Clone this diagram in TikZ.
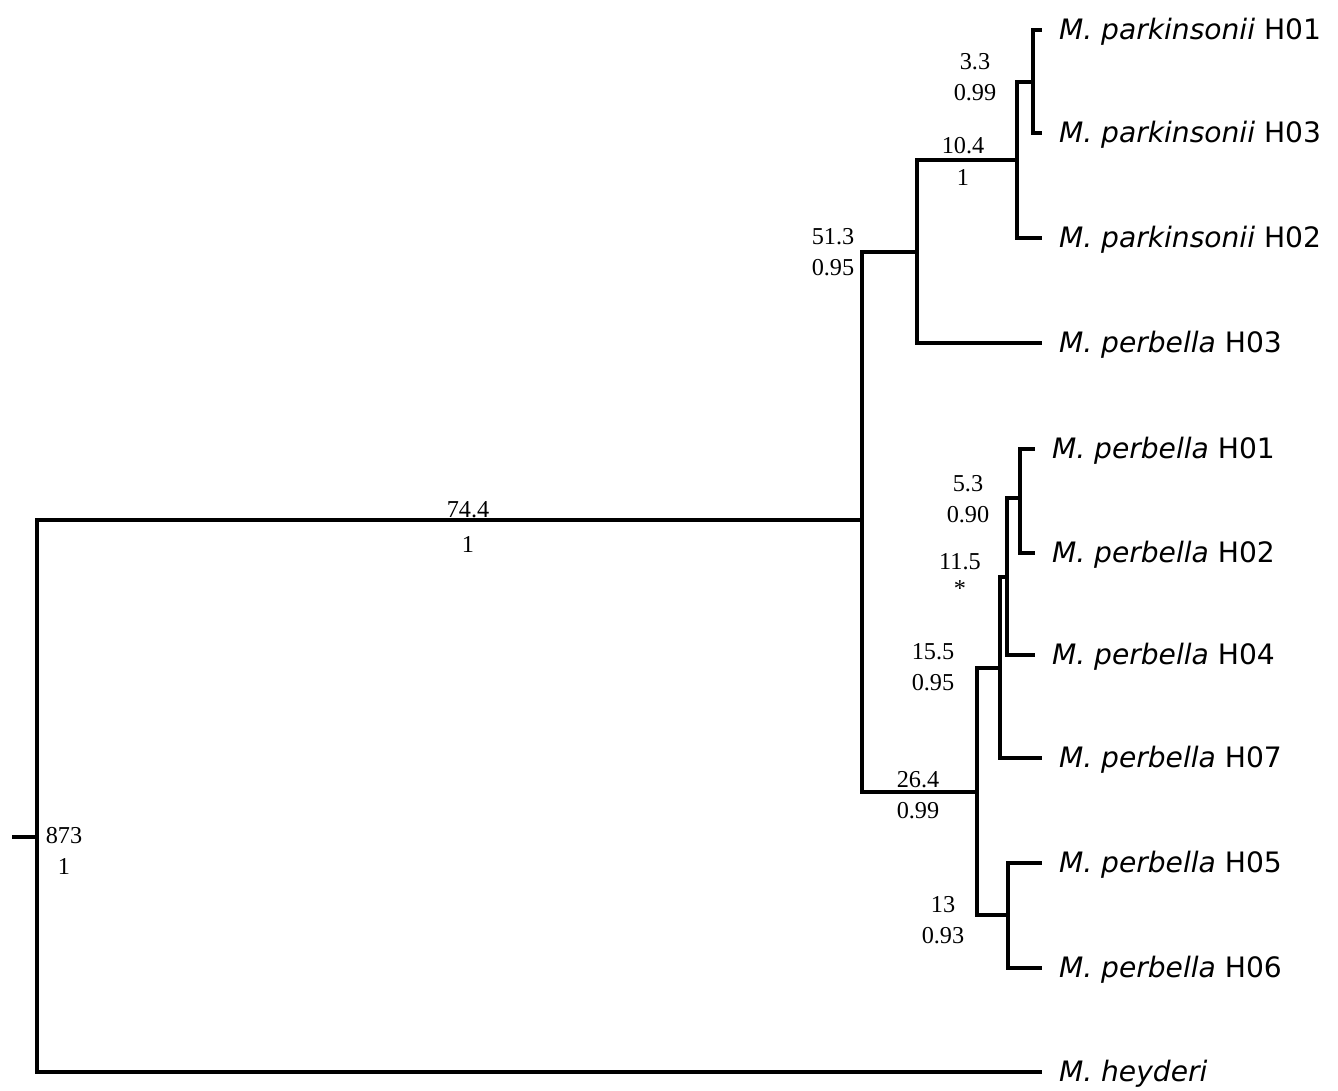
\documentclass[tikz,border=0pt]{standalone}
\usepackage{fontspec}
\setmainfont{Liberation Serif}
\newfontfamily\taxafont{DejaVu Sans}
\usetikzlibrary{positioning}
\tikzset{
  branch/.style={line width=1.2pt, line join=miter, line cap=rect},
  taxon/.style={anchor=west, inner xsep=0.19cm, inner ysep=0pt, outer sep=0pt,
    text height=6pt, text depth=0.4pt, font=\taxafont\fontsize{8}{9.6}\selectfont},
  supp/.style={align=center, inner sep=0pt, font=\fontsize{6.9}{8.8}\selectfont}
}

\begin{document}
\begin{tikzpicture}[x=0.01cm, y=-0.01cm]
  \useasboundingbox (0,0) rectangle (1338,1091);

  \coordinate (stub) at (14,837);
  \coordinate (n0) at (37,837);
  \coordinate (n1) at (862,520);
  \coordinate (n2) at (917,252);
  \coordinate (n3) at (1017,160);
  \coordinate (n4) at (1033,82);
  \coordinate (n6) at (977,792);
  \coordinate (n7) at (1000,668);
  \coordinate (n8) at (1007,577);
  \coordinate (n9) at (1020,498);
  \coordinate (n10) at (1008,915);

  \node[taxon] (pkH01) at (1040,30) {\textit{M. parkinsonii} H01};
  \node[taxon] (pkH03) at (1040,133) {\textit{M. parkinsonii} H03};
  \node[taxon] (pkH02) at (1040,238) {\textit{M. parkinsonii} H02};
  \node[taxon] (pbH03) at (1040,343) {\textit{M. perbella} H03};
  \node[taxon] (pbH01) at (1033,449) {\textit{M. perbella} H01};
  \node[taxon] (pbH02) at (1033,553) {\textit{M. perbella} H02};
  \node[taxon] (pbH04) at (1033,655) {\textit{M. perbella} H04};
  \node[taxon] (pbH07) at (1040,758) {\textit{M. perbella} H07};
  \node[taxon] (pbH05) at (1040,863) {\textit{M. perbella} H05};
  \node[taxon] (pbH06) at (1040,968) {\textit{M. perbella} H06};
  \node[taxon] (hey) at (1040,1072) {\textit{M. heyderi}};

  \draw[branch] (stub) -- (n0);
  \draw[branch] (n0) |- (n1);
  \draw[branch] (n0) |- (hey.west);
  \draw[branch] (n1) |- (n2);
  \draw[branch] (n1) |- (n6);
  \draw[branch] (n2) |- (n3);
  \draw[branch] (n2) |- (pbH03.west);
  \draw[branch] (n3) |- (n4);
  \draw[branch] (n3) |- (pkH02.west);
  \draw[branch] (n4) |- (pkH01.west);
  \draw[branch] (n4) |- (pkH03.west);
  \draw[branch] (n6) |- (n7);
  \draw[branch] (n6) |- (n10);
  \draw[branch] (n7) |- (n8);
  \draw[branch] (n7) |- (pbH07.west);
  \draw[branch] (n8) |- (n9);
  \draw[branch] (n8) |- (pbH04.west);
  \draw[branch] (n9) |- (pbH01.west);
  \draw[branch] (n9) |- (pbH02.west);
  \draw[branch] (n10) |- (pbH05.west);
  \draw[branch] (n10) |- (pbH06.west);

  \node[supp] (s4) at (975,77) {3.3\\0.99};
  \node[supp] (s3) at (963,161) {10.4\\[0.3pt]1};
  \node[supp] (s2) at (833,252) {51.3\\0.95};
  \node[supp] (s1) at (468,527) {74.4\\[1.2pt]1};
  \node[supp] (s9) at (968,499) {5.3\\0.90};
  \node[supp] (s8) at (960,575) {11.5\\[-1pt]*};
  \node[supp] (s7) at (933,667) {15.5\\0.95};
  \node[supp] (s6) at (918,795) {26.4\\0.99};
  \node[supp] (s10) at (943,920) {13\\0.93};
  \node[supp] (s0) at (64,851) {873\\1};
\end{tikzpicture}
\end{document}
